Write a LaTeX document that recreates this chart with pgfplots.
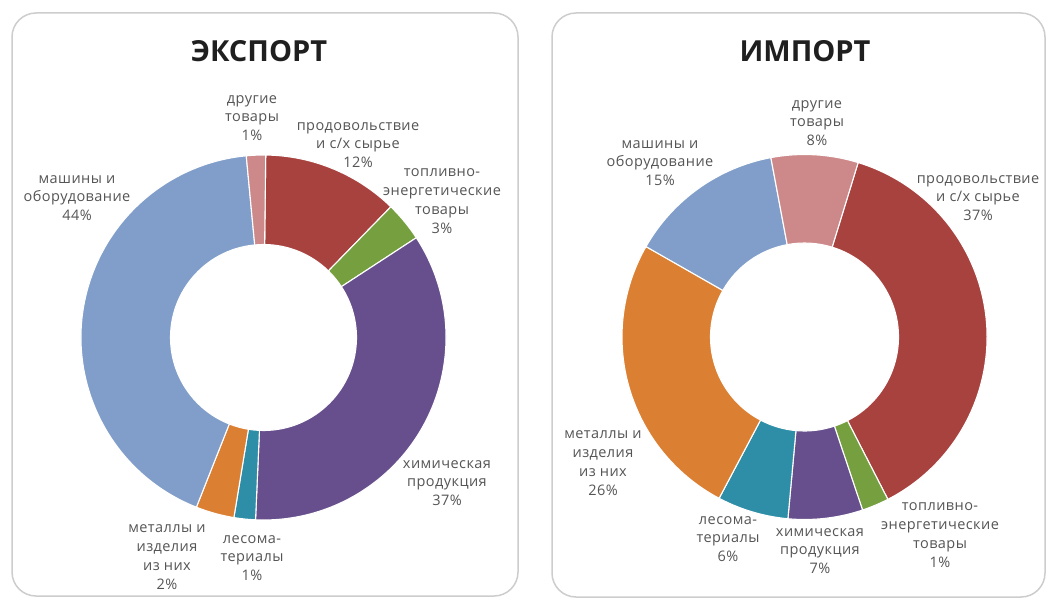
\documentclass[border=0pt]{standalone}
\usepackage{pgfplots}
\pgfplotsset{compat=1.18}
\usepackage{pgfplotstable}
\usetikzlibrary{calc}
\usepackage{fontspec}
\setmainfont{Open Sans}
\newfontfamily\labelfont[LetterSpace=3]{Open Sans}

\definecolor{cBlue}{RGB}{128,158,201}
\definecolor{cRed}{RGB}{168,66,63}
\definecolor{cGreen}{RGB}{118,160,64}
\definecolor{cPurple}{RGB}{102,79,140}
\definecolor{cTeal}{RGB}{46,142,168}
\definecolor{cOrange}{RGB}{219,127,50}
\definecolor{cPink}{RGB}{205,137,137}
\definecolor{cFrame}{RGB}{205,205,205}
\definecolor{cLabel}{RGB}{85,85,85}

% shares (percent), clockwise order
\pgfplotstableread[col sep=comma]{
item,value,color
prod,12.1,cRed
fuel,3.5,cGreen
chem,34.9,cPurple
wood,1.9,cTeal
metal,3.4,cOrange
mach,42.5,cBlue
other,1.7,cPink
}\exportdata

\pgfplotstableread[col sep=comma]{
item,value,color
prod,37.7,cRed
fuel,2.4,cGreen
chem,6.6,cPurple
wood,6.3,cTeal
metal,25.5,cOrange
mach,13.8,cBlue
other,7.7,cPink
}\importdata

% #1 table, #2 cx, #3 cy, #4 outer radius, #5 inner radius, #6 start angle (clockwise from top)
\newcommand\donut[6]{%
  \pgfplotstablegetrowsof{#1}%
  \pgfmathtruncatemacro\nrows{\pgfplotsretval-1}%
  \pgfmathsetmacro\cum{#6}%
  \pgfplotsforeachungrouped \i in {0,...,\nrows}{%
    \pgfplotstablegetelem{\i}{value}\of{#1}\let\v\pgfplotsretval
    \pgfplotstablegetelem{\i}{color}\of{#1}\let\c\pgfplotsretval
    \pgfmathsetmacro\aone{90-\cum}%
    \pgfmathsetmacro\atwo{90-\cum-3.6*\v}%
    \pgfmathsetmacro\cum{\cum+3.6*\v}%
    \edef\tmp{\noexpand\fill[\c, draw=white, line width=1.1pt]
      ($(axis cs:#2,#3)+(\aone:#4pt)$) arc[start angle=\aone, end angle=\atwo, radius=#4pt]
      -- ($(axis cs:#2,#3)+(\atwo:#5pt)$) arc[start angle=\atwo, end angle=\aone, radius=#5pt] -- cycle;}%
    \tmp
  }%
}

\begin{document}
\begin{tikzpicture}
\begin{axis}[
  at={(0pt,0pt)}, anchor=south west,
  scale only axis, x=1pt, y=1pt,
  xmin=0, xmax=1052, ymin=0, ymax=602, y dir=reverse,
  hide axis, clip=false,
]
\path (axis cs:0,0) rectangle (axis cs:1052,602);
% panels
\draw[cFrame, line width=1.5pt, rounded corners=24pt, fill=white] (axis cs:12,13) rectangle (axis cs:518,596);
\draw[cFrame, line width=1.5pt, rounded corners=24pt, fill=white] (axis cs:552,13) rectangle (axis cs:1045,597);

% titles
\node[font=\fontsize{29}{34}\selectfont\bfseries, text=black!88] at (axis cs:259,51) {ЭКСПОРТ};
\node[font=\fontsize{29}{34}\selectfont\bfseries, text=black!88] at (axis cs:805,51) {ИМПОРТ};

% donuts
\donut{\exportdata}{263.5}{337.5}{182.5}{93}{0.7}
\donut{\importdata}{804.5}{337}{182.5}{94}{17.1}

% labels
\tikzset{lbl/.style={align=center, text=cLabel, font=\labelfont\fontsize{14.5}{18.8}\selectfont, inner sep=0pt}}
\node[lbl] at (axis cs:252,118) {другие\\товары\\1\%};
\node[lbl] at (axis cs:358,145) {продовольствие\\и с/х сырье\\12\%};
\node[lbl] at (axis cs:442,201) {топливно-\\энергетические\\товары\\3\%};
\node[lbl] at (axis cs:77,198) {машины и\\оборудование\\44\%};
\node[lbl] at (axis cs:447,483) {химическая\\продукция\\37\%};
\node[lbl] at (axis cs:167,557) {металлы и\\изделия\\из них\\2\%};
\node[lbl] at (axis cs:252,558) {лесома-\\териалы\\1\%};

\node[lbl] at (axis cs:817,123) {другие\\товары\\8\%};
\node[lbl] at (axis cs:660,163) {машины и\\оборудование\\15\%};
\node[lbl] at (axis cs:978,198) {продовольствие\\и с/х сырье\\37\%};
\node[lbl] at (axis cs:603,463) {металлы и\\изделия\\из них\\26\%};
\node[lbl] at (axis cs:728,539) {лесома-\\териалы\\6\%};
\node[lbl] at (axis cs:820,551) {химическая\\продукция\\7\%};
\node[lbl] at (axis cs:940,535) {топливно-\\энергетические\\товары\\1\%};
\end{axis}
\end{tikzpicture}
\end{document}
